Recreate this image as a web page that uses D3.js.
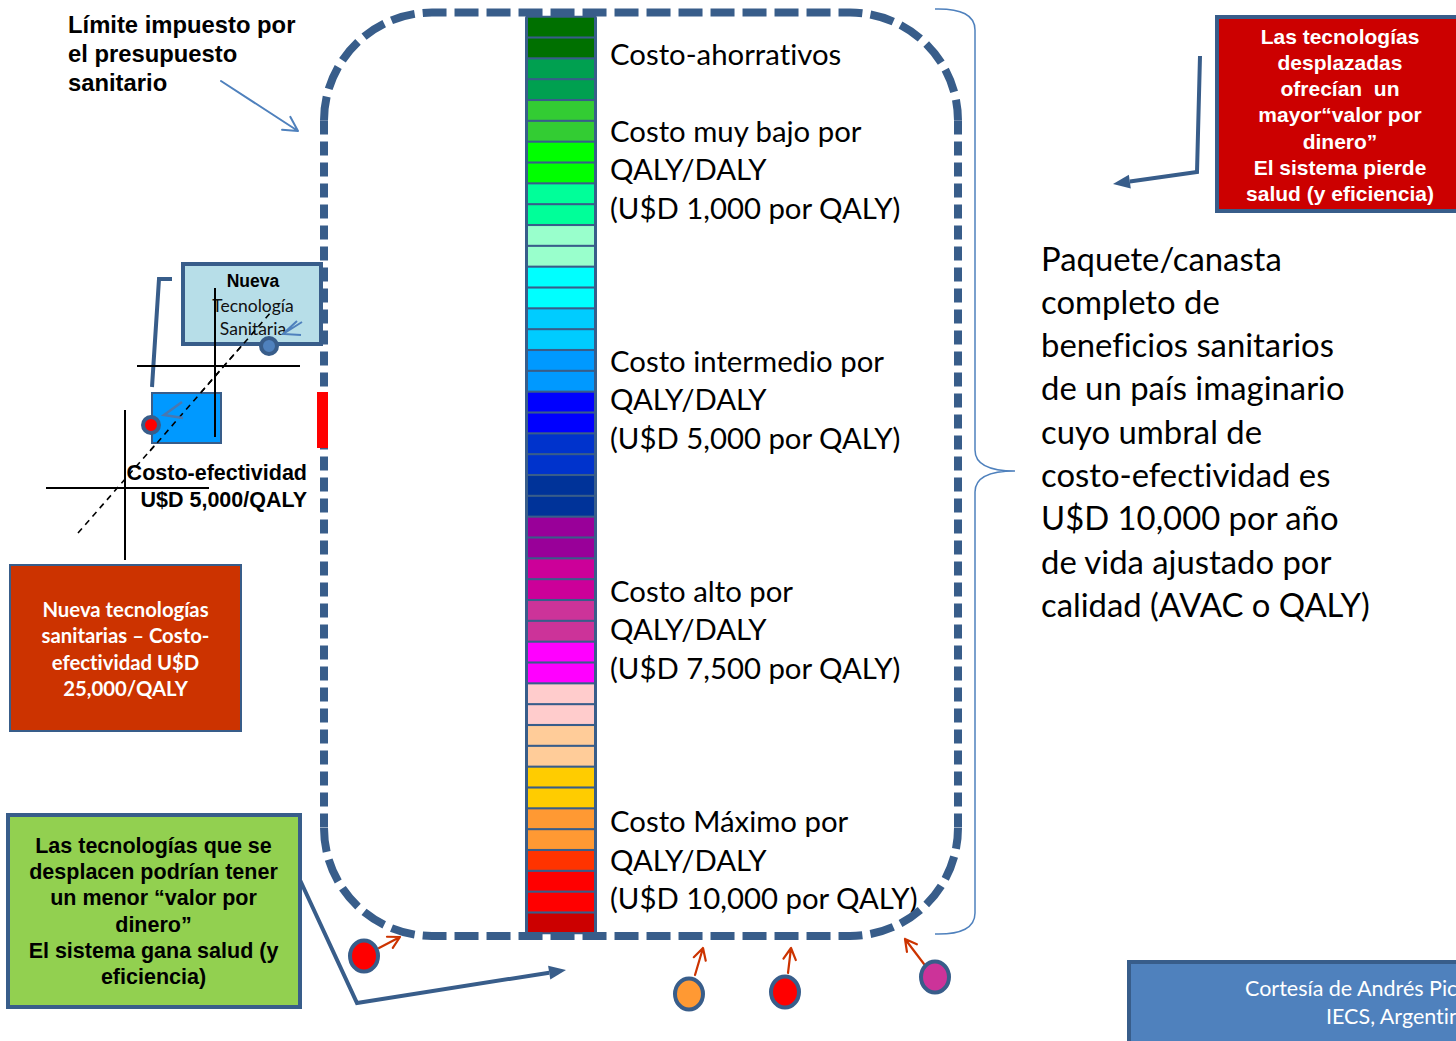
<!DOCTYPE html>
<html>
<head>
<meta charset="utf-8">
<script src="https://cdn.jsdelivr.net/npm/d3@7"></script>
<style>
  body { margin: 0; background: #fff; }
  svg { display: block; }
  text { font-variant-ligatures: none; white-space: pre; }
</style>
</head>
<body>
<svg id="chart" width="1456" height="1041"></svg>
<script>
// ---- Data -----------------------------------------------------------------
// Colour of each technology in the benefit package, from cost-saving (top)
// to the most expensive per QALY (bottom).
const cellColors = [
  "#007000", "#007000", "#00A050", "#00A050", "#33CC33", "#33CC33",
  "#00FF00", "#00FF00", "#00FF99", "#00FF99", "#99FFCC", "#99FFCC",
  "#00FFFF", "#00FFFF", "#00CCFF", "#00CCFF", "#0099FF", "#0099FF",
  "#0000FF", "#0000FF", "#0033CC", "#0033CC", "#003399", "#003399",
  "#990099", "#990099", "#CC0099", "#CC0099", "#CC3399", "#CC3399",
  "#FF00FF", "#FF00FF", "#FFCCCC", "#FFCCCC", "#FFCC99", "#FFCC99",
  "#FFCC00", "#FFCC00", "#FF9933", "#FF9933", "#FF3300", "#FF0000",
  "#FF0000", "#CC0000"
];

// Cost tiers written beside the column
const tierLabels = [
  ["Costo-ahorrativos"],
  ["Costo muy bajo por", "QALY/DALY", "(U$D 1,000 por QALY)"],
  ["Costo intermedio por", "QALY/DALY", "(U$D 5,000 por QALY)"],
  ["Costo alto por", "QALY/DALY", "(U$D 7,500 por QALY)"],
  ["Costo Máximo por", "QALY/DALY", "(U$D 10,000 por QALY)"]
];

const packageText = [
  "Paquete/canasta", "completo de", "beneficios sanitarios",
  "de un país imaginario", "cuyo umbral de", "costo-efectividad es",
  "U$D 10,000 por año", "de vida ajustado por", "calidad (AVAC o QALY)"
];

const budgetLimitText = ["Límite impuesto por", "el presupuesto", "sanitario"];
const newTechText = ["Nueva", "Tecnología", "Sanitaria"];
const ceText = ["Costo-efectividad", "U$D 5,000/QALY"];
const newTechCEText = ["Nueva tecnologías", "sanitarias – Costo-", "efectividad U$D", "25,000/QALY"];
const gainText = ["Las tecnologías que se", "desplacen podrían tener", "un menor “valor por",
                  "dinero”", "El sistema gana salud (y", "eficiencia)"];
const lossText = ["Las tecnologías", "desplazadas", "ofrecían  un", "mayor“valor por",
                  "dinero”", "El sistema pierde", "salud (y eficiencia)"];
const creditText = ["Cortesía de Andrés Pichon-Riviere", "IECS, Argentina"];

// Technologies pushed out of the package (colour = their cost tier)
const displaced = ["#FF0000", "#FF9933", "#FF0000", "#CC3399"];

// ---- Drawing --------------------------------------------------------------
const svg = d3.select("#chart");
const DARK = "#385D8A", MID = "#4F81BD";
const CAL = "Lato, 'Open Sans', sans-serif";
const ARIAL = "'Liberation Sans', Arial, sans-serif";

// scale a block of lines so its widest line spans the given width
function fitBlock(sel, width) {
  let w = 0;
  sel.each(function () { w = Math.max(w, this.getComputedTextLength()); });
  const fs = parseFloat(sel.attr("font-size"));
  sel.attr("font-size", fs * width / w);
}

function textBlock(lines, x, y0, dy, opts) {
  const g = svg.append("g");
  const t = g.selectAll("text").data(lines).join("text")
    .attr("x", x)
    .attr("y", (d, i) => y0 + i * dy)
    .attr("dominant-baseline", "central")
    .attr("text-anchor", opts.anchor || "start")
    .attr("font-family", opts.family)
    .attr("font-weight", opts.weight || "normal")
    .attr("font-size", opts.size)
    .attr("fill", opts.fill || "#000")
    .text(d => d);
  if (opts.fit) fitBlock(t, opts.fit);
  return t;
}

function openArrow(x1, y1, x2, y2, color, width, head) {
  const a = Math.atan2(y2 - y1, x2 - x1), s = 0.5;
  const p = d3.path();
  p.moveTo(x1, y1); p.lineTo(x2, y2);
  p.moveTo(x2 - head * Math.cos(a - s), y2 - head * Math.sin(a - s));
  p.lineTo(x2, y2);
  p.lineTo(x2 - head * Math.cos(a + s), y2 - head * Math.sin(a + s));
  svg.append("path").attr("d", p.toString()).attr("fill", "none")
    .attr("stroke", color).attr("stroke-width", width)
    .attr("stroke-linecap", "round").attr("stroke-linejoin", "round");
}

function solidArrow(points, color, width, head, hw) {
  const n = points.length;
  const [xa, ya] = points[n - 2], [xb, yb] = points[n - 1];
  const a = Math.atan2(yb - ya, xb - xa);
  const bx = xb - head * Math.cos(a), by = yb - head * Math.sin(a);
  const pts = points.slice(0, n - 1).concat([[bx, by]]);
  svg.append("path").attr("d", d3.line()(pts)).attr("fill", "none")
    .attr("stroke", color).attr("stroke-width", width).attr("stroke-linejoin", "miter");
  const px = -Math.sin(a) * hw, py = Math.cos(a) * hw;
  svg.append("path")
    .attr("d", `M${xb},${yb}L${bx + px},${by + py}L${bx - px},${by - py}Z`)
    .attr("fill", color);
}

// ---- package column -----------------------------------------------------
const y = d3.scaleBand()
  .domain(d3.range(cellColors.length))
  .range([17.3, 932.7])
  .paddingInner(0.1)
  .paddingOuter(0.02);

svg.append("rect")
  .attr("x", 525).attr("y", y.range()[0] - 1.5)
  .attr("width", 72).attr("height", y.range()[1] - y.range()[0] + 3)
  .attr("rx", 2).attr("fill", DARK);

svg.append("g").selectAll("rect").data(cellColors).join("rect")
  .attr("x", 528).attr("width", 66)
  .attr("y", (d, i) => y(i))
  .attr("height", y.bandwidth())
  .attr("fill", d => d);

// tier labels placed along the column
const cellPos = d3.scaleLinear().domain([0, cellColors.length])
  .range([y.range()[0], y.range()[1]]);
const lineH = 38.5;
const tierCentre = [1.72, 7.27, 18.33, 29.4, 40.47];
const tierTexts = [];
tierLabels.forEach((lines, k) => {
  const cy = cellPos(tierCentre[k]);
  const t = textBlock(lines, 610, cy - (lines.length - 1) / 2 * lineH, lineH,
    { family: CAL, size: 28 });
  tierTexts.push(t);
});
{
  const ref = tierTexts[2].filter((d, i) => i === 0);
  const fs = 28 * 274 / ref.node().getComputedTextLength();
  tierTexts.forEach(t => t.attr("font-size", fs));
}

// ---- budget limit: dashed rounded frame ------------------------------------
const fx0 = 324, fy0 = 12.5, fx1 = 958, fy1 = 936, r = 108;
const topPath = d3.path();
topPath.moveTo(fx0, fy0 + r);
topPath.arcTo(fx0, fy0, fx0 + r, fy0, r);
topPath.lineTo(fx1 - r, fy0);
topPath.arcTo(fx1, fy0, fx1, fy0 + r, r);
const botPath = d3.path();
botPath.moveTo(fx0, fy1 - r);
botPath.arcTo(fx0, fy1, fx0 + r, fy1, r);
botPath.lineTo(fx1 - r, fy1);
botPath.arcTo(fx1, fy1, fx1, fy1 - r, r);
const sidePath = d3.path();
sidePath.moveTo(fx0, fy0 + r); sidePath.lineTo(fx0, fy1 - r);
sidePath.moveTo(fx1, fy0 + r); sidePath.lineTo(fx1, fy1 - r);
[[topPath, "24,8"], [botPath, "24,8"], [sidePath, "14,7"]].forEach(([p, dash]) => {
  svg.append("path").attr("d", p.toString()).attr("fill", "none")
    .attr("stroke", DARK).attr("stroke-width", 8).attr("stroke-dasharray", dash);
});

// red marker of the new technology entering at the limit
svg.append("rect").attr("x", 317).attr("y", 392).attr("width", 11).attr("height", 56)
  .attr("fill", "#FF0000");

// ---- brace and package description -----------------------------------------
svg.append("path")
  .attr("d", "M935,9 Q975,8 975,30 L975,450 Q975,471 1015,471 Q975,471 975,492 L975,913 Q975,935 935,934")
  .attr("fill", "none").attr("stroke", MID).attr("stroke-width", 1.5);

textBlock(packageText, 1041, 258, 43.3, { family: CAL, size: 32, fit: 329 });

// ---- top-left note ----------------------------------------------------------
textBlock(budgetLimitText, 68, 24, 29, { family: ARIAL, weight: "bold", size: 23.8 });
openArrow(221, 81, 298, 131, MID, 2, 16);

// ---- cost-effectiveness sketch ---------------------------------------------
// dashed threshold ray
svg.append("line").attr("x1", 78).attr("y1", 533).attr("x2", 272).attr("y2", 311)
  .attr("stroke", "#000").attr("stroke-width", 1.6).attr("stroke-dasharray", "6,5");

// new technology box
svg.append("rect").attr("x", 183).attr("y", 264).attr("width", 138).attr("height", 80)
  .attr("fill", "#B7DEE8").attr("stroke", DARK).attr("stroke-width", 4);
textBlock(newTechText.slice(0, 1), 253, 281, 0, { family: ARIAL, weight: "bold", size: 17.5, anchor: "middle" });
textBlock(newTechText.slice(1), 253, 305, 23, { family: CAL, size: 17.5, anchor: "middle", fill: "#111" });

// bracket from new tech to the current technology
svg.append("path").attr("d", "M172,279 L159,279 L152,387").attr("fill", "none")
  .attr("stroke", DARK).attr("stroke-width", 4);

// displaced technology box
svg.append("rect").attr("x", 152).attr("y", 393).attr("width", 69).attr("height", 50)
  .attr("fill", "#0099FF").attr("stroke", DARK).attr("stroke-width", 2);

// crosshairs (cost vs. effect axes)
svg.append("g").attr("stroke", "#000").attr("stroke-width", 2).selectAll("line")
  .data([[215, 288, 215, 437], [137, 366, 300, 366], [125, 410, 125, 560], [46, 488, 209, 488]])
  .join("line")
  .attr("x1", d => d[0]).attr("y1", d => d[1]).attr("x2", d => d[2]).attr("y2", d => d[3]);

// dashed ray passes over the boxes again
svg.append("line").attr("x1", 150).attr("y1", 451).attr("x2", 272).attr("y2", 311)
  .attr("stroke", "#000").attr("stroke-width", 1.6).attr("stroke-dasharray", "6,5");

// small open arrow heads
svg.append("path").attr("d", "M302,322 L283,334 M297,321 L283,334 L301,335").attr("fill", "none")
  .attr("stroke", MID).attr("stroke-width", 2);
svg.append("path").attr("d", "M182,402 L164,415 L183,418").attr("fill", "none")
  .attr("stroke", "#4A78B0").attr("stroke-width", 2.5);

// markers on the boxes
svg.append("circle").attr("cx", 269).attr("cy", 346).attr("r", 8)
  .attr("fill", MID).attr("stroke", DARK).attr("stroke-width", 4);
svg.append("circle").attr("cx", 151).attr("cy", 425).attr("r", 8)
  .attr("fill", "#FF0000").attr("stroke", DARK).attr("stroke-width", 4);

textBlock(ceText, 307, 473, 26.5, { family: ARIAL, weight: "bold", size: 21.5, anchor: "end" });

// ---- coloured notes -------------------------------------------------------
svg.append("rect").attr("x", 10).attr("y", 565).attr("width", 231).attr("height", 166)
  .attr("fill", "#CC3300").attr("stroke", DARK).attr("stroke-width", 2);
textBlock(newTechCEText, 125.5, 609, 26.3, { family: CAL, weight: "bold", size: 18, anchor: "middle", fill: "#fff", fit: 168 });

svg.append("rect").attr("x", 8).attr("y", 815).attr("width", 292).attr("height", 192)
  .attr("fill", "#92D050").attr("stroke", DARK).attr("stroke-width", 4);
textBlock(gainText, 153.5, 846, 26.2, { family: ARIAL, weight: "bold", size: 21.5, anchor: "middle" });
solidArrow([[300, 880], [357, 1003], [566, 970]], DARK, 4, 17, 7);

svg.append("rect").attr("x", 1217).attr("y", 17).attr("width", 250).attr("height", 194)
  .attr("fill", "#CC0000").attr("stroke", DARK).attr("stroke-width", 4);
textBlock(lossText, 1340, 36, 26.3, { family: ARIAL, weight: "bold", size: 21, anchor: "middle", fill: "#fff" });
solidArrow([[1200, 56], [1197, 172], [1113, 184]], DARK, 4, 17, 7);

svg.append("rect").attr("x", 1129).attr("y", 962).attr("width", 340).attr("height", 90)
  .attr("fill", MID).attr("stroke", DARK).attr("stroke-width", 4);
textBlock(creditText.slice(0, 1), 1245, 988, 0, { family: CAL, size: 21.5, fill: "#fff" });
textBlock(creditText.slice(1), 1326, 1016, 0, { family: CAL, size: 21.5, fill: "#fff" });

// ---- displaced technologies below the frame --------------------------------
const outPos = [[364, 956], [689, 994], [785, 992], [935, 977]];
const outArrow = [[379, 948, 400, 937], [695, 975, 703, 948], [788, 973, 791, 948], [924, 964, 905, 939]];
displaced.forEach((c, i) => {
  const [ax1, ay1, ax2, ay2] = outArrow[i];
  openArrow(ax1, ay1, ax2, ay2, "#CC3300", 2.2, 13);
  svg.append("ellipse").attr("cx", outPos[i][0]).attr("cy", outPos[i][1])
    .attr("rx", 14).attr("ry", 15.5)
    .attr("fill", c).attr("stroke", DARK).attr("stroke-width", 4);
});
</script>
</body>
</html>
